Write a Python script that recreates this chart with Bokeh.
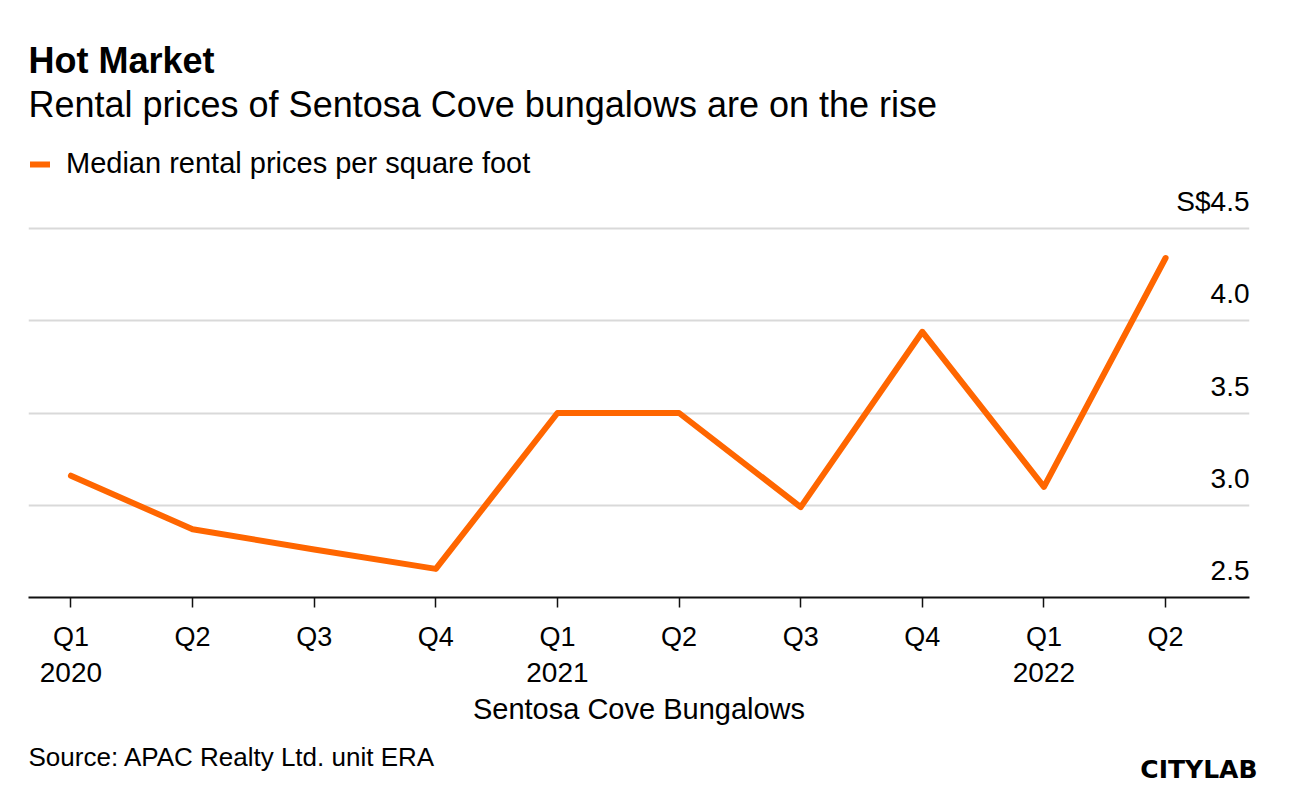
from bokeh.plotting import figure
from bokeh.layouts import column
from bokeh.models import (Range1d, LinearAxis, FixedTicker, Label, Legend,
                          LegendItem, ColumnDataSource)
from bokeh.embed import file_html
from bokeh.resources import INLINE
from bokeh.core.properties import value

# ---- data ----
quarters = ["Q1", "Q2", "Q3", "Q4", "Q1", "Q2", "Q3", "Q4", "Q1", "Q2"]
quarter_index = list(range(len(quarters)))
years = ["2020", "2021", "2022"]
year_index = [0, 4, 8]
prices = [3.16, 2.87, 2.76, 2.655, 3.50, 3.50, 2.99, 3.94, 3.10, 4.34]
y_ticks = [2.5, 3.0, 3.5, 4.0, 4.5]
y_tick_labels = ["2.5", "3.0", "3.5", "4.0", "S$4.5"]

# ---- styling / layout ----
FONT = "Liberation Sans"
ORANGE = "#FF6600"
TOTAL_W = 1288
FRAME_W, FRAME_H = 1221, 597
BOTTOM_BORDER = 135
FOOTER_H = 58
PX_PER_UNIT = 184.5
x_start, x_end = -0.349, 9.69
y_start = 2.5
y_end = y_start + FRAME_H / PX_PER_UNIT

p = figure(frame_width=FRAME_W, frame_height=FRAME_H,
           x_range=Range1d(x_start, x_end), y_range=Range1d(y_start, y_end),
           output_backend="svg", toolbar_location=None, y_axis_location=None,
           min_border_left=28, min_border_right=TOTAL_W - 28 - FRAME_W,
           min_border_top=0, min_border_bottom=BOTTOM_BORDER, outline_line_color=None,
           background_fill_color="white", border_fill_color="white")

# x axis (quarters)
xa = p.xaxis[0]
xa.ticker = FixedTicker(ticks=quarter_index)
xa.major_label_overrides = {i: q for i, q in zip(quarter_index, quarters)}
xa.axis_line_color = "#111111"
xa.axis_line_width = 2
xa.major_tick_line_color = "#111111"
xa.major_tick_line_width = 1.5
xa.major_tick_in = 0
xa.major_tick_out = 10
xa.minor_tick_line_color = None
xa.major_label_standoff = 14
xa.major_label_text_font = FONT
xa.major_label_text_font_size = "27px"
xa.major_label_text_color = "#000000"

# second axis with years + axis title
ya = LinearAxis(ticker=FixedTicker(ticks=year_index),
                major_label_overrides={i: y for i, y in zip(year_index, years)},
                axis_line_color=None, major_tick_line_color=None,
                minor_tick_line_color=None, major_tick_in=0, major_tick_out=0,
                major_label_standoff=8,
                major_label_text_font=FONT, major_label_text_font_size="28px",
                major_label_text_color="#000000",
                axis_label="Sentosa Cove Bungalows", axis_label_standoff=8,
                axis_label_text_font=FONT, axis_label_text_font_size="29px",
                axis_label_text_font_style="normal", axis_label_text_color="#000000")
p.add_layout(ya, "below")

p.xgrid.visible = False
p.ygrid.ticker = FixedTicker(ticks=y_ticks)
p.ygrid.grid_line_color = "#d9d9d9"
p.ygrid.grid_line_width = 2

# data line
r = p.line(x=quarter_index, y=prices, line_color=ORANGE, line_width=6,
           line_join="round", line_cap="round")

# y tick labels (right side, above grid lines)
ysrc = ColumnDataSource(dict(x=[x_end] * len(y_ticks), y=y_ticks, text=y_tick_labels))
p.text(x="x", y="y", text="text", source=ysrc, text_align="right",
       text_baseline="alphabetic", y_offset=-27, text_font=value(FONT),
       text_font_size="28px", text_color="#000000")

# legend
legend = Legend(items=[LegendItem(label="Median rental prices per square foot", renderers=[r])],
                location=(2, 417), orientation="vertical",
                border_line_color=None, background_fill_alpha=0,
                padding=0, margin=0, spacing=0,
                glyph_width=20, glyph_height=24, label_height=24,
                label_standoff=16, label_text_font=FONT,
                label_text_font_size="29px", label_text_color="#000000")
p.add_layout(legend)


def add_label(fig, text, x, y, size, style="normal", align="left", font=FONT):
    fig.add_layout(Label(x=x, y=y, x_units="screen", y_units="screen", text=text,
                         text_font=font, text_font_size=size, text_font_style=style,
                         text_color="#000000", text_align=align,
                         text_baseline="alphabetic"))


add_label(p, "Hot Market", 0, 537, "36px", "bold")
add_label(p, "Rental prices of Sentosa Cove bungalows are on the rise", 0, 493, "36px")

# footer strip
footer = figure(width=TOTAL_W, height=FOOTER_H, x_range=Range1d(0, 1), y_range=Range1d(0, 1),
                output_backend="svg", toolbar_location=None,
                x_axis_location=None, y_axis_location=None,
                min_border=0, outline_line_color=None,
                background_fill_color="white", border_fill_color="white")
footer.frame_align = False
footer.xgrid.visible = False
footer.ygrid.visible = False
add_label(footer, "Source: APAC Realty Ltd. unit ERA", 28, 34, "26px")
add_label(footer, "CITYLAB", 1257, 21, "25px", "bold", "right", "DejaVu Sans")

layout = column(p, footer, spacing=0)
open("out.html", "w").write(file_html(layout, INLINE))
